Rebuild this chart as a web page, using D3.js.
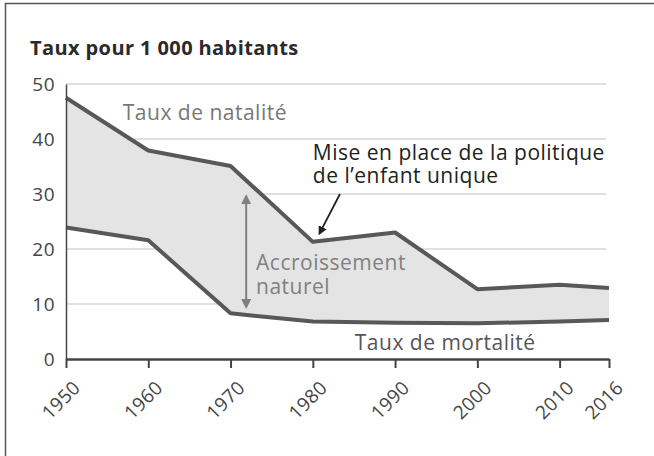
<!DOCTYPE html>
<html>
<head>
<meta charset="utf-8">
<script src="https://cdn.jsdelivr.net/npm/d3@7"></script>
<style>
  body { margin: 0; background: #fff; }
  text { font-family: "Open Sans", "Noto Sans", sans-serif; }
</style>
</head>
<body>
<div id="chart"></div>
<script>
// data
const years = [1950, 1960, 1970, 1980, 1990, 2000, 2010, 2016]
const natalite = [47.5, 37.9, 35.1, 21.3, 23.0, 12.7, 13.5, 12.9]
const mortalite = [23.9, 21.6, 8.3, 6.8, 6.6, 6.5, 6.8, 7.1]
const yTicks = [0, 10, 20, 30, 40, 50]

const W = 654, H = 456
const margin = { top: 84, right: 45, bottom: 97, left: 66 }
const width = W - margin.left - margin.right,
    height = H - margin.top - margin.bottom

const data = years.map((y, i) => ({ year: y, nat: natalite[i], mort: mortalite[i] }))

const svg = d3.select("#chart")
    .append("svg")
    .attr("width", W)
    .attr("height", H)

// frame
svg.append("path")
    .attr("d", "M5.5," + (H + 2) + "V3.5H" + (W + 2))
    .attr("fill", "none")
    .attr("stroke", "#555")
    .attr("stroke-width", 1.5)

svg.append("text")
    .attr("x", 30)
    .attr("y", 55)
    .attr("font-size", 20)
    .attr("font-weight", 700)
    .attr("letter-spacing", 0.4)
    .attr("fill", "#2a2a2a")
    .text("Taux pour 1 000 habitants")

const g = svg.append("g")
    .attr("transform", "translate(" + margin.left + "," + margin.top + ")")

const x = d3.scaleLinear()
    .domain([1950, 2016])
    .range([0, width])
const y = d3.scaleLinear()
    .domain([0, 50])
    .range([height, 0])

// gridlines
g.append("g")
    .selectAll("line")
    .data(yTicks.filter(d => d > 0))
    .join("line")
    .attr("x1", 0)
    .attr("x2", x(2016) - 3)
    .attr("y1", d => y(d))
    .attr("y2", d => y(d))
    .attr("stroke", "#d6d6d6")
    .attr("stroke-width", 1.5)

// area between the two rates
g.append("path")
    .datum(data)
    .attr("fill", "#e4e4e4")
    .attr("d", d3.area()
        .x(d => x(d.year))
        .y0(d => y(d.mort))
        .y1(d => y(d.nat)))

const line = key => d3.line()
    .x(d => x(d.year))
    .y(d => y(d[key]))

g.append("path")
    .datum(data)
    .attr("fill", "none")
    .attr("stroke", "#585858")
    .attr("stroke-width", 4)
    .attr("stroke-linejoin", "round")
    .attr("d", line("nat"))
g.append("path")
    .datum(data)
    .attr("fill", "none")
    .attr("stroke", "#585858")
    .attr("stroke-width", 4)
    .attr("stroke-linejoin", "round")
    .attr("d", line("mort"))

// Y axis
const yAxis = g.append("g")
    .call(d3.axisLeft(y).tickValues(yTicks).tickSize(0).tickPadding(11))
yAxis.select(".domain").attr("stroke", "#444").attr("stroke-width", 1.5)
yAxis.selectAll("text")
    .attr("font-size", 19)
    .attr("letter-spacing", 0.5)
    .attr("fill", "#444")
    .style("font-family", "'Open Sans', sans-serif")

// X axis
const xAxis = g.append("g")
    .attr("transform", "translate(0," + height + ")")
    .call(d3.axisBottom(x).tickValues(years).tickFormat(d3.format("d")).tickSize(9).tickSizeOuter(0))
xAxis.select(".domain").attr("stroke", "#444").attr("stroke-width", 2.5)
xAxis.selectAll(".tick line").attr("stroke", "#444").attr("stroke-width", 2)
xAxis.selectAll("text")
    .attr("font-size", 19)
    .attr("letter-spacing", 0.3)
    .attr("fill", "#444")
    .style("font-family", "'Open Sans', sans-serif")
    .attr("text-anchor", "end")
    .attr("x", 0)
    .attr("y", 0)
    .attr("dy", 0)
    .attr("transform", "translate(15,30) rotate(-45)")

// annotations
g.append("text")
    .attr("x", x(1956.9))
    .attr("y", y(43.45))
    .attr("font-size", 21)
    .attr("letter-spacing", 0.5)
    .attr("fill", "#777")
    .text("Taux de natalité")

g.append("text")
    .attr("x", x(1985.1))
    .attr("y", y(1.64))
    .attr("font-size", 21)
    .attr("letter-spacing", 0.5)
    .attr("fill", "#555")
    .text("Taux de mortalité")

const note = g.append("text")
    .attr("font-size", 21)
    .attr("letter-spacing", 0.5)
    .attr("font-weight", 500)
    .attr("fill", "#222")
note.append("tspan").attr("x", x(1980.0)).attr("y", y(36.18)).text("Mise en place de la politique")
note.append("tspan").attr("x", x(1980.0)).attr("y", y(32.0)).text("de l\u2019enfant unique")

const acc = g.append("text")
    .attr("font-size", 21)
    .attr("letter-spacing", 0.5)
    .attr("fill", "#808080")
acc.append("tspan").attr("x", x(1973.1)).attr("y", y(16.18)).text("Accroissement")
acc.append("tspan").attr("x", x(1973.1)).attr("y", y(11.82)).text("naturel")

// arrows
const defs = svg.append("defs")
defs.append("marker")
    .attr("id", "ahBlack")
    .attr("viewBox", "0 0 10 10")
    .attr("refX", 8).attr("refY", 5)
    .attr("markerWidth", 5).attr("markerHeight", 5)
    .attr("orient", "auto-start-reverse")
    .append("path").attr("d", "M0,0L10,5L0,10z").attr("fill", "#222")
defs.append("marker")
    .attr("id", "ahGray")
    .attr("viewBox", "0 0 10 10")
    .attr("refX", 8).attr("refY", 5)
    .attr("markerWidth", 5).attr("markerHeight", 5)
    .attr("orient", "auto-start-reverse")
    .append("path").attr("d", "M0,0L10,5L0,10z").attr("fill", "#808080")

g.append("line")
    .attr("x1", x(1983.3)).attr("y1", y(30.0))
    .attr("x2", x(1980.8)).attr("y2", y(22.8))
    .attr("stroke", "#222")
    .attr("stroke-width", 1.8)
    .attr("marker-end", "url(#ahBlack)")

g.append("line")
    .attr("x1", x(1971.9)).attr("y1", y(29.6))
    .attr("x2", x(1971.9)).attr("y2", y(9.45))
    .attr("stroke", "#808080")
    .attr("stroke-width", 2)
    .attr("marker-start", "url(#ahGray)")
    .attr("marker-end", "url(#ahGray)")
</script>
</body>
</html>
